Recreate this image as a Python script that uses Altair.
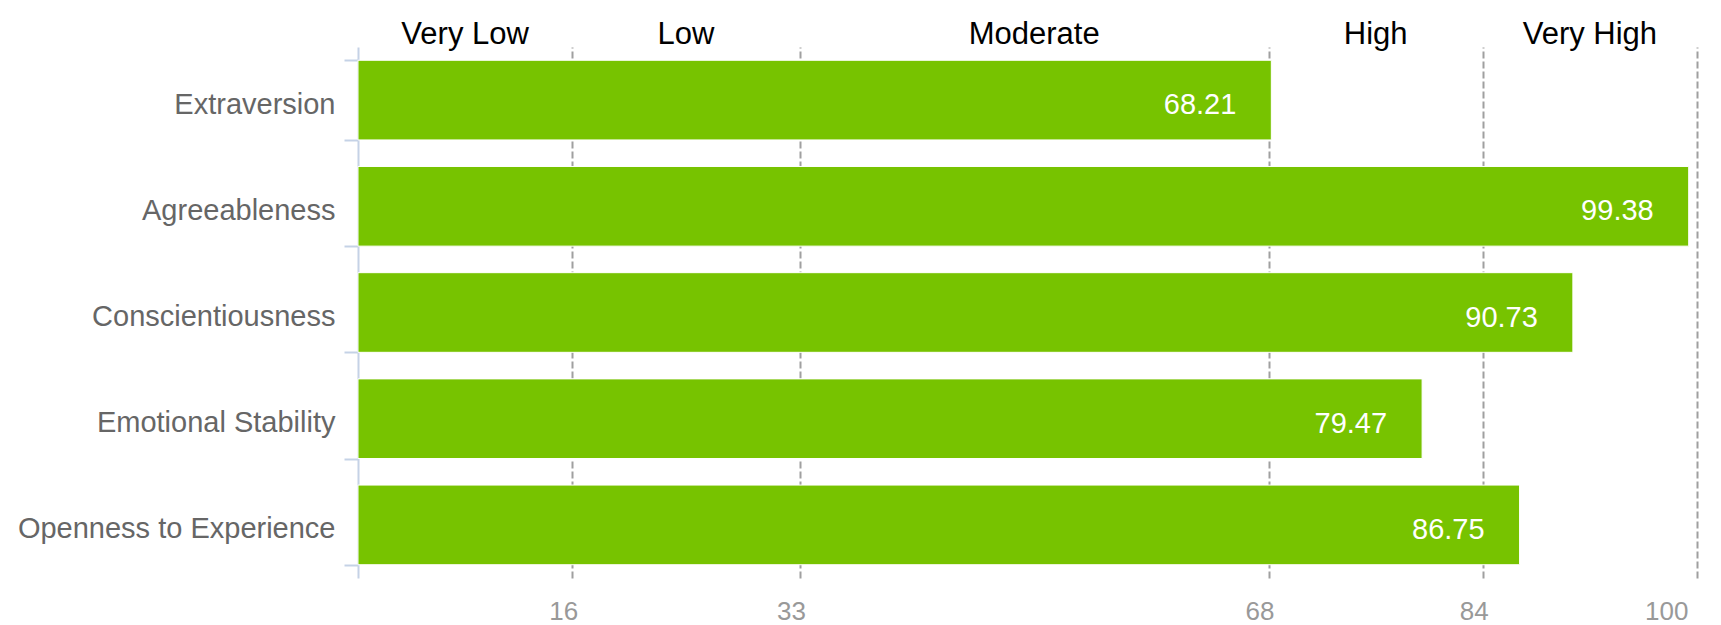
import altair as alt
import pandas as pd

traits = ["Extraversion", "Agreeableness", "Conscientiousness",
          "Emotional Stability", "Openness to Experience"]
scores = [68.21, 99.38, 90.73, 79.47, 86.75]

level_names = ["Very Low", "Low", "Moderate", "High", "Very High"]
level_bounds = [0, 16, 33, 68, 84, 100]
tick_values = [16, 33, 68, 84, 100]

FONT = "Liberation Sans"
GREEN = "#77c300"

df = pd.DataFrame({"trait": traits, "score": scores})
levels = pd.DataFrame({
    "level": level_names,
    "lo": level_bounds[:-1],
    "hi": level_bounds[1:],
})
levels["mid"] = (levels["lo"] + levels["hi"]) / 2

xscale = alt.Scale(domain=[0, 100], nice=False, zero=True)
yscale = alt.Scale(paddingInner=0.25, paddingOuter=0.125)

bars = alt.Chart(df).mark_bar(color=GREEN, stroke="white", strokeWidth=1).encode(
    x=alt.X("score:Q", scale=xscale,
            axis=alt.Axis(values=tick_values, title=None, domain=False, ticks=False,
                          grid=True, gridColor="#a0a0a0", gridWidth=2,
                          gridDash=[7, 3], labelColor="#999999", labelFontSize=26,
                          labelFont=FONT, labelPadding=20, labelOffset=-9)),
    y=alt.Y("trait:N", sort=traits, scale=yscale,
            axis=alt.Axis(title=None, tickBand="extent", domainColor="#c5d2e6",
                          domainWidth=2, tickColor="#c5d2e6", tickWidth=2,
                          tickSize=14, labelColor="#666666", labelFontSize=29,
                          labelFont=FONT, labelPadding=9, labelLimit=0,
                          labelOffset=4, grid=False)),
)

values = alt.Chart(df).mark_text(
    align="right", baseline="middle", dx=-35, dy=5, color="white",
    fontSize=29, font=FONT
).encode(
    x=alt.X("score:Q", scale=xscale),
    y=alt.Y("trait:N", sort=traits, scale=yscale),
    text=alt.Text("score:Q", format=".2f"),
)

top_labels = alt.Chart(levels).mark_text(
    align="center", baseline="middle", color="#000000", fontSize=31, font=FONT
).encode(
    x=alt.X("mid:Q", scale=xscale),
    y=alt.value(-12),
    text="level:N",
)

chart = alt.layer(bars, values, top_labels).properties(
    width=1339, height=531,
    autosize=alt.AutoSizeParams(type="none"),
    padding={"left": 358, "top": 47, "right": 24, "bottom": 47},
).configure_view(stroke=None)

chart.save("out.html", embed_options={"renderer": "svg", "actions": False})
